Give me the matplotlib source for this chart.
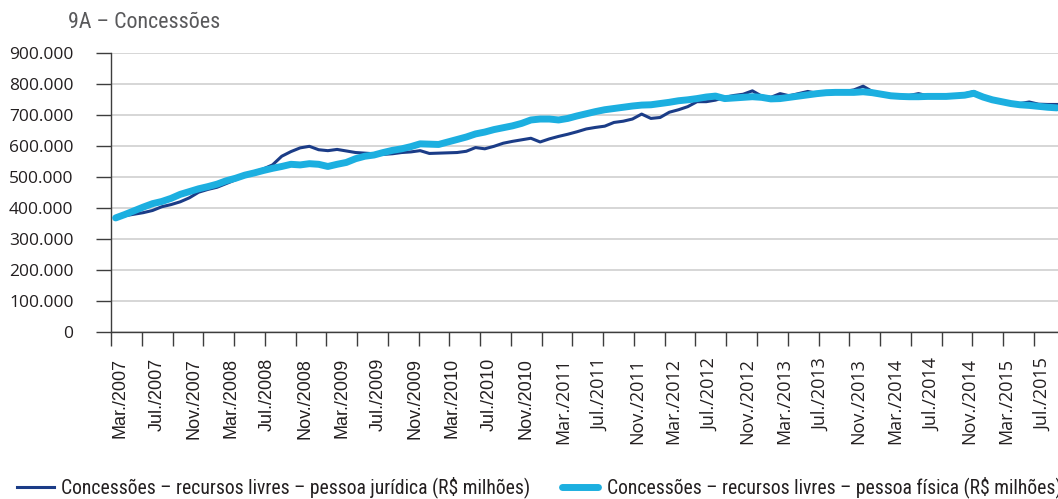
import numpy as np
import matplotlib.pyplot as plt
import matplotlib.transforms as mtransforms
from matplotlib import font_manager as fm
from matplotlib.lines import Line2D
from matplotlib.ticker import FixedLocator

# Concessões mensais (R$ milhões), mar/2007 em diante
pj = np.array([
    367, 374, 379, 384, 391, 403, 410, 419, 432, 450,
    459, 466, 478, 490, 505, 515, 525, 538, 566, 581,
    593, 598, 587, 584, 588, 583, 578, 576, 574, 572,
    574, 578, 580, 584, 575, 576, 577, 578, 582, 594,
    590, 598, 608, 614, 619, 624, 612, 622, 630, 637,
    645, 654, 659, 663, 675, 679, 686, 702, 688, 691,
    708, 716, 726, 742, 742, 747, 756, 762, 766, 777,
    760, 756, 768, 761, 768, 775, 769, 772, 775, 775,
    780, 792, 775, 766, 761, 759, 762, 768, 761, 762,
    763, 764, 767, 775, 753, 746, 741, 737, 736, 741,
    734, 733, 733]) * 1000

pf = np.array([
    367, 378, 390, 402, 413, 420, 430, 443, 452, 461,
    468, 476, 487, 495, 505, 512, 520, 527, 533, 540,
    538, 542, 540, 533, 540, 546, 558, 566, 570, 578,
    585, 590, 597, 606, 605, 604, 612, 620, 628, 638,
    644, 652, 658, 664, 672, 683, 686, 686, 683, 688,
    696, 703, 710, 716, 720, 724, 728, 731, 732, 736,
    740, 745, 748, 752, 757, 760, 752, 754, 756, 758,
    756, 751, 752, 756, 760, 764, 768, 771, 772, 772,
    772, 774, 771, 766, 761, 759, 758, 758, 759, 759,
    759, 761, 763, 769, 757, 748, 742, 736, 732, 730,
    727, 724, 722]) * 1000

rotulos = ["Mar./2007", "Jul./2007", "Nov./2007", "Mar./2008", "Jul./2008",
           "Nov./2008", "Mar./2009", "Jul./2009", "Nov./2009", "Mar./2010",
           "Jul./2010", "Nov./2010", "Mar./2011", "Jul./2011", "Nov./2011",
           "Mar./2012", "Jul./2012", "Nov./2012", "Mar./2013", "Jul./2013",
           "Nov./2013", "Mar./2014", "Jul./2014", "Nov./2014", "Mar./2015",
           "Jul./2015"]

valores_y = np.arange(0, 900001, 100000)
rotulos_y = ["0", "100.000", "200.000", "300.000", "400.000", "500.000",
             "600.000", "700.000", "800.000", "900.000"]

nome_pj = "Concessões – recursos livres – pessoa jurídica (R$ milhões)"
nome_pf = "Concessões – recursos livres – pessoa física (R$ milhões)"

cor_pj = "#1b3c87"
cor_pf = "#1cafe0"
cor_eixo = "#3d3d3d"

plt.rcParams["font.family"] = ["Open Sans", "DejaVu Sans"]

# fonte condensada para título e legenda (a mais estreita disponível)
nomes = {f.name for f in fm.fontManager.ttflist}
cond = None
for n in ["Liberation Sans Narrow", "Roboto Condensed", "Noto Sans Condensed",
          "Open Sans Condensed", "DejaVu Sans Condensed", "Arial Narrow"]:
    if n in nomes:
        cond = fm.FontProperties(family=n)
        break
if cond is None:
    cands = [f for f in fm.fontManager.ttflist
             if f.stretch in ("condensed", "semi-condensed")
             and f.style == "normal" and f.weight == 400]
    cands.sort(key=lambda f: ["Noto Sans", "Open Sans", "DejaVu Sans"].index(f.name)
               if f.name in ["Noto Sans", "Open Sans", "DejaVu Sans"] else 9)
    if cands:
        cond = fm.FontProperties(fname=cands[0].fname)
    else:
        cond = fm.FontProperties(family="Roboto")

W, H = 1058, 499
fig = plt.figure(figsize=(W / 100, H / 100), dpi=100)
ax = fig.add_axes([111 / W, (H - 331.7) / H, (1080 - 111) / W, 279 / H])

x = np.arange(len(pj))
ax.plot(x, pj, color=cor_pj, lw=2.2, zorder=3)
ax.plot(x, pf, color=cor_pf, lw=5, zorder=4, solid_capstyle="round")

ax.set_xlim(-0.5, 104.5)
ax.set_ylim(0, 900000)

# eixo y
ax.set_yticks(valores_y, labels=rotulos_y, fontsize=12.5, family="Open Sans",
              color="#231f20")
ax.tick_params(axis="y", length=11, width=1, color=cor_eixo, pad=16)
ax.yaxis.grid(True, color="#cccccc", lw=1.1)
ax.set_axisbelow(True)

# eixo x: rótulos a cada 4 meses, marcas a cada 10/3 meses
ax.set_xticks(np.arange(len(rotulos)) * 4, labels=rotulos, rotation=90,
              fontsize=13, color="#231f20")
ax.xaxis.set_minor_locator(FixedLocator(np.arange(-0.5, 105, 10 / 3)))
ax.tick_params(axis="x", which="major", length=0, pad=19)
ax.tick_params(axis="x", which="minor", length=10, width=1, color=cor_eixo)
off = mtransforms.ScaledTranslation(4.4 / 100, 0, fig.dpi_scale_trans)
for i, t in enumerate(ax.get_xticklabels()):
    t.set_family("Liberation Sans" if i < 12 else "Open Sans")
    t.set_transform(t.get_transform() + off)

for s in ["top", "right"]:
    ax.spines[s].set_visible(False)
for s in ["left", "bottom"]:
    ax.spines[s].set_color(cor_eixo)
    ax.spines[s].set_linewidth(1)

# título
titulo = fig.text(68 / W, 1 - 23 / H, "9A – Concessões", fontproperties=cond,
                  color="#59595b", va="center", ha="left")

# legenda
yl = 1 - 487 / H
fig.add_artist(Line2D([17 / W, 54 / W], [yl, yl], color=cor_pj, lw=2.2,
                      transform=fig.transFigure))
leg1 = fig.text(61 / W, yl, nome_pj, fontproperties=cond, color="#231f20",
                va="center", ha="left")
fig.add_artist(Line2D([562 / W, 598 / W], [yl, yl], color=cor_pf, lw=5,
                      solid_capstyle="round", transform=fig.transFigure))
leg2 = fig.text(607 / W, yl, nome_pf, fontproperties=cond, color="#231f20",
                va="center", ha="left")

# ajusta o tamanho das fontes condensadas à largura do original
r = fig.canvas.get_renderer()
for txt, largura, outros in [(titulo, 153, []), (leg1, 472, [leg2])]:
    txt.set_fontsize(16)
    w = txt.get_window_extent(r).width
    novo = min(16 * largura / w, 17.5)
    txt.set_fontsize(novo)
    for o in outros:
        o.set_fontsize(novo)

fig.savefig("out.png", dpi=100)
